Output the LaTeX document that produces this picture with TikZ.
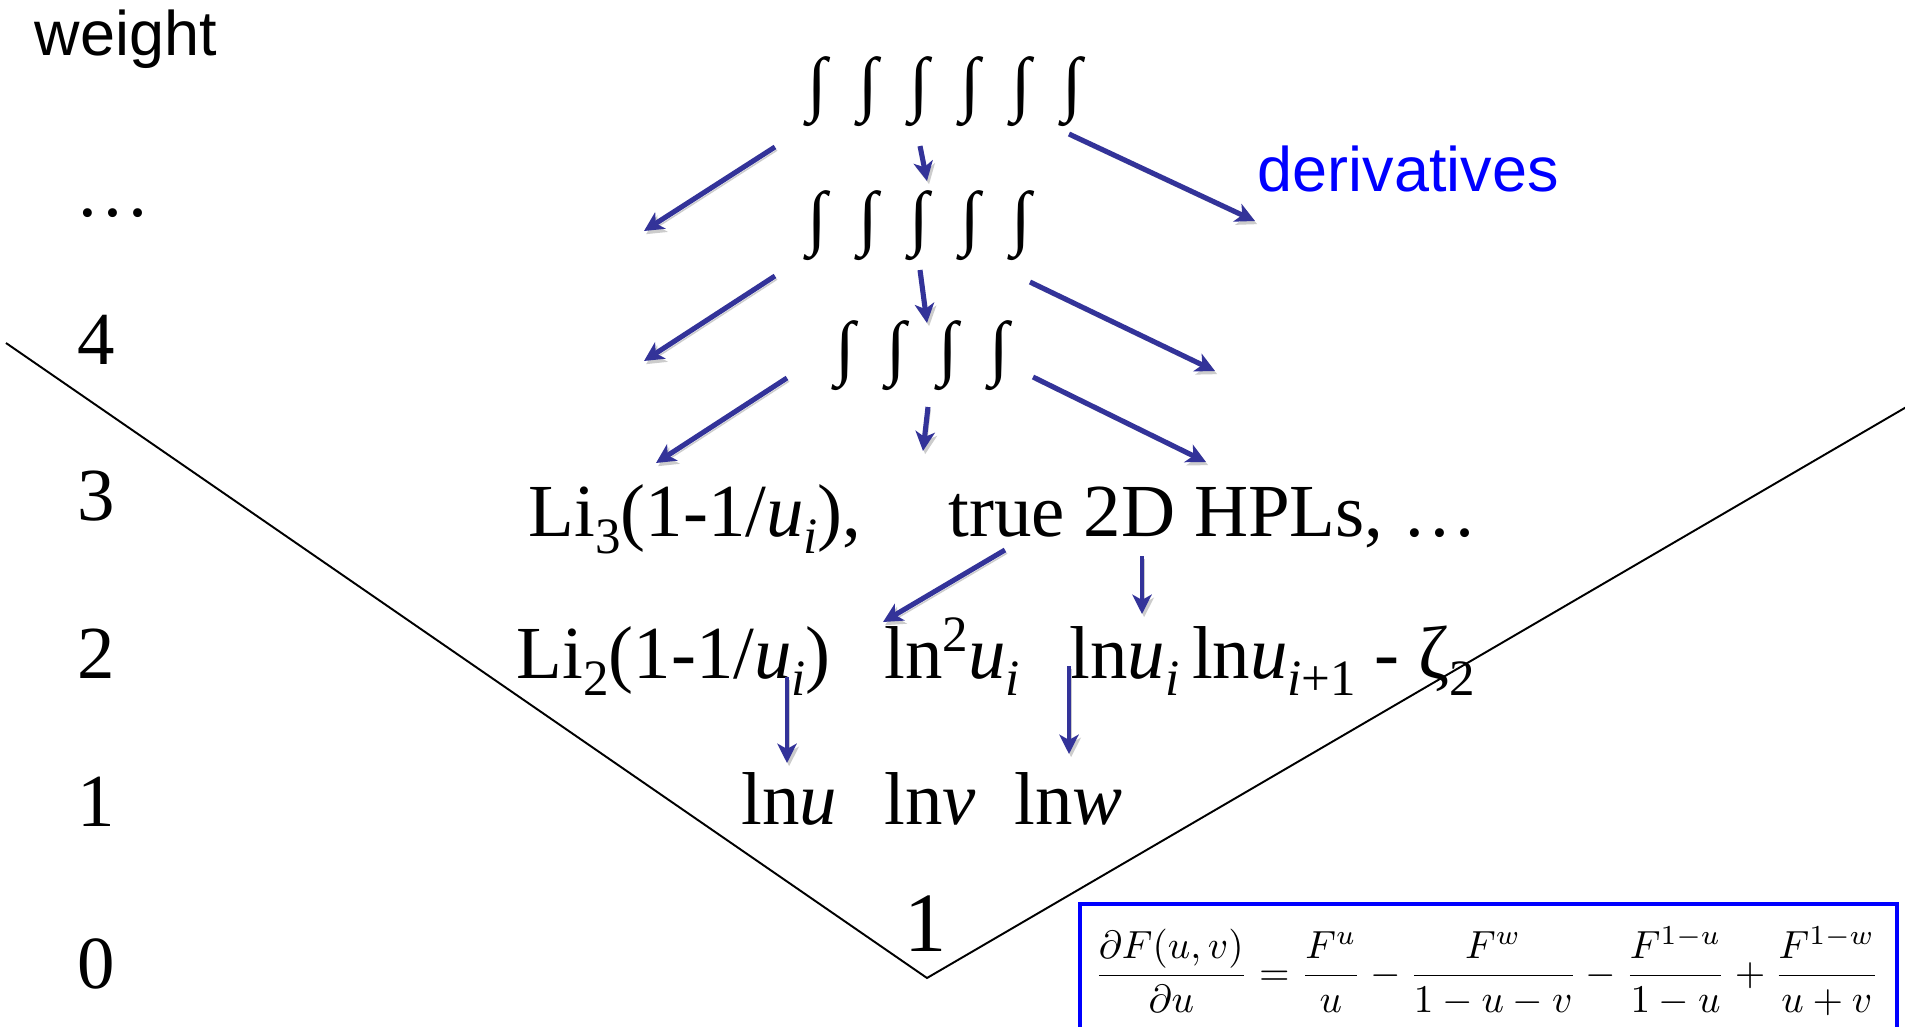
\documentclass[tikz,border=0pt]{standalone}
\usepackage{fontspec}
\setmainfont{Liberation Serif}
\newfontfamily\sansf{Liberation Sans}
\usepackage{graphicx}
\usetikzlibrary{arrows.meta}
\definecolor{arrblue}{RGB}{51,51,153}
\definecolor{boxblue}{RGB}{0,0,255}
\newcommand\intsym{\resizebox*{!}{0.70cm}{∫}}
\newcommand\mysub[1]{\raisebox{-0.24em}{\fontsize{14.5}{16}\selectfont #1}}
\newcommand\mysup[1]{\raisebox{0.36em}{\fontsize{14.5}{16}\selectfont #1}}
\begin{document}
\begin{tikzpicture}[x=0.01cm,y=-0.01cm,
  lbl/.style={anchor=base west, inner sep=0pt, font=\fontsize{21.3}{24}\selectfont},
  axnum/.style={anchor=base, inner sep=0pt, font=\fontsize{21.3}{24}\selectfont},
  sanslbl/.style={anchor=base west, inner sep=0pt, font=\sansf\fontsize{17.9}{20}\selectfont},
  intnode/.style={inner sep=0pt, anchor=center},
  arr/.style={draw=arrblue, line width=1.45pt, -{Stealth[length=5.5pt,width=5.5pt,inset=1.5pt]},
    preaction={draw=black!20, transform canvas={xshift=0.6pt,yshift=-0.9pt}}},
  arrthin/.style={arr, line width=1.05pt},
  vline/.style={draw=black, line width=0.55pt},
]
\clip (0,0) rectangle (1905,1027);
\fill[white] (0,0) rectangle (1905,1027);

% axis labels
\node[sanslbl] (weight) at (34,55) {weight};
\node[lbl] (dots) at (75,216) {…};
\node[axnum] (w4) at (96,364) {4};
\node[axnum] (w3) at (96,520) {3};
\node[axnum] (w2) at (96,678) {2};
\node[axnum] (w1) at (96,826) {1};
\node[axnum] (w0) at (96,988) {0};

% V lines
\coordinate (vl) at (6,343);
\coordinate (vb) at (927,978);
\coordinate (vr) at (1915,402);
\draw[vline] (vl) -- (vb) -- (vr);

% integral rows
\foreach \n/\x in {1/817,2/868,3/919,4/970,5/1021,6/1072}
  \node[intnode] (a\n) at (\x,92) {\intsym};
\foreach \n/\x in {1/817,2/868,3/919,4/970,5/1021}
  \node[intnode] (b\n) at (\x,226) {\intsym};
\foreach \n/\x in {1/845,2/896,3/948,4/999}
  \node[intnode] (c\n) at (\x,356) {\intsym};

\node[sanslbl, text=boxblue] (deriv) at (1257,191) {derivatives};

% weight 3 row
\node[lbl] (li3) at (528,536) {Li\mysub{3}(1-1/\textit{u}\mysub{\textit{i}}),};
\node[lbl] (hpl) at (948,536) {true 2D HPLs, …};
% weight 2 row
\node[lbl] (li2) at (516,678) {Li\mysub{2}(1-1/\textit{u}\mysub{\textit{i}})};
\node[lbl] (lnsq) at (884,678) {ln\mysup{2}\textit{u}\mysub{\textit{i}}};
\node[lbl] (lnln) at (1069,678) {ln\textit{u}\mysub{\textit{i}}\,ln\textit{u}\mysub{\textit{i}+1} - ζ\mysub{2}};
% weight 1 row
\node[lbl] (lnu) at (741,824) {ln\textit{u}};
\node[lbl] (lnv) at (884,824) {ln\textit{v}};
\node[lbl] (lnw) at (1014,824) {ln\textit{w}};
% weight 0
\node[axnum, font=\fontsize{24}{28}\selectfont] (one) at (926,951) {1};

% arrow end points
\coordinate (l1s) at (775,147); \coordinate (l1e) at (644,231);
\coordinate (l2s) at (775,276); \coordinate (l2e) at (644,361);
\coordinate (l3s) at (787,378); \coordinate (l3e) at (656,463);
\coordinate (m1s) at (920,146); \coordinate (m1e) at (927,181);
\coordinate (m2s) at (920,270); \coordinate (m2e) at (927,323);
\coordinate (m3s) at (928,407); \coordinate (m3e) at (923,451);
\coordinate (r1s) at (1069,134); \coordinate (r1e) at (1255,221);
\coordinate (r2s) at (1030,282); \coordinate (r2e) at (1215,371);
\coordinate (r3s) at (1033,377); \coordinate (r3e) at (1206,462);
\coordinate (t1s) at (1005,550); \coordinate (t1e) at (883,622);
\coordinate (t2s) at (1142,556); \coordinate (t2e) at (1142,614);
\coordinate (d1s) at (787,677);  \coordinate (d1e) at (787,763);
\coordinate (d2s) at (1069,666); \coordinate (d2e) at (1069,754);

\foreach \p in {l1,l2,l3,m1,m2,m3,r1,r2,r3,t1}
  \draw[arr] (\p s) -- (\p e);
\foreach \p in {t2,d1,d2}
  \draw[arrthin] (\p s) -- (\p e);

% equation box
\draw[boxblue, line width=0.9pt] (1080,904) rectangle (1897,1060);
\node[inner sep=0pt] (eq) at (1487,971) {\resizebox{7.85cm}{!}{$\displaystyle
  \frac{\partial F(u,v)}{\partial u}=\frac{F^{u}}{u}-\frac{F^{w}}{1-u-v}-\frac{F^{1-u}}{1-u}+\frac{F^{1-w}}{u+v}$}};
\end{tikzpicture}
\end{document}
